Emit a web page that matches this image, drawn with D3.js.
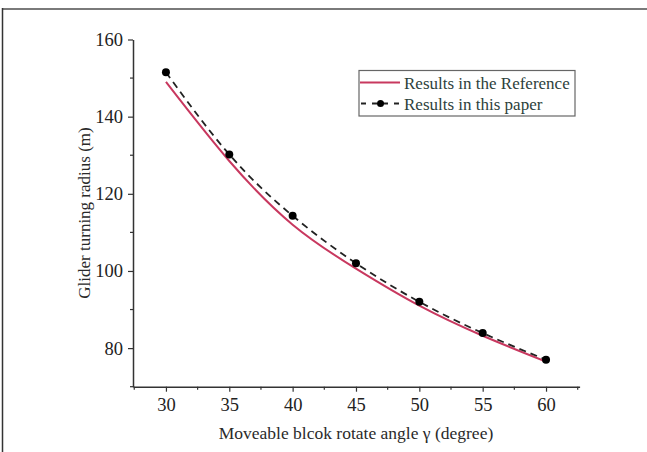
<!DOCTYPE html>
<html><head><meta charset="utf-8">
<script src="https://cdn.jsdelivr.net/npm/d3@7"></script>
<style>
html,body{margin:0;padding:0;background:#fff;}
svg{display:block;}
text{font-family:"Liberation Serif","Times New Roman",serif;}
</style></head>
<body>
<svg id="chart" width="647" height="452"></svg>
<script>
const angles = [30, 35, 40, 45, 50, 55, 60];
const referenceValues = [149.0, 128.5, 112.0, 100.6, 91.0, 83.2, 76.5];
const paperValues = [151.5, 130.2, 114.3, 102.0, 92.0, 83.9, 77.0];
const xTicks = [30, 35, 40, 45, 50, 55, 60];
const yTicks = [80, 100, 120, 140, 160];
const seriesNames = ["Results in the Reference", "Results in this paper"];

const svg = d3.select("#chart");
// outer frame (top and left edges only)
svg.append("line").attr("x1", 2).attr("x2", 647).attr("y1", 9).attr("y2", 9)
  .attr("stroke", "#7a7a7a").attr("stroke-width", 2);
svg.append("line").attr("x1", 2.5).attr("x2", 2.5).attr("y1", 8).attr("y2", 452)
  .attr("stroke", "#333").attr("stroke-width", 1.5);

const x = d3.scaleLinear().domain([27.4, 62.65]).range([133, 579.6]);
const y = d3.scaleLinear().domain([70, 160]).range([386.7, 39.5]);

const axisColor = "#333";
// x axis
const gx = svg.append("g").attr("transform", "translate(0,386.7)");
gx.call(d3.axisBottom(x).tickValues(xTicks).tickSize(5).tickPadding(6).tickSizeOuter(0))
  .call(g => g.select(".domain").attr("stroke", axisColor).attr("stroke-width", 1.5))
  .call(g => g.selectAll(".tick line").attr("stroke", axisColor).attr("stroke-width", 1.2))
  .call(g => g.selectAll(".tick text").attr("font-size", 18.5).attr("fill", "#222")
     .attr("font-family", "Liberation Serif, serif"));
gx.selectAll(".minor").data(d3.range(27.5, 62.6, 2.5).filter(v => !xTicks.includes(v)))
  .enter().append("line").attr("class", "minor")
  .attr("x1", d => x(d)).attr("x2", d => x(d)).attr("y1", 0).attr("y2", 3)
  .attr("stroke", axisColor).attr("stroke-width", 1.2);

// y axis
const gy = svg.append("g").attr("transform", "translate(133,0)");
gy.call(d3.axisLeft(y).tickValues(yTicks).tickSize(5).tickPadding(5).tickSizeOuter(0))
  .call(g => g.select(".domain").attr("stroke", axisColor).attr("stroke-width", 1.5))
  .call(g => g.selectAll(".tick line").attr("stroke", axisColor).attr("stroke-width", 1.2))
  .call(g => g.selectAll(".tick text").attr("font-size", 18.5).attr("fill", "#222")
     .attr("font-family", "Liberation Serif, serif"));
gy.selectAll(".minor").data([70, 90, 110, 130, 150])
  .enter().append("line").attr("class", "minor")
  .attr("x1", 0).attr("x2", -3).attr("y1", d => y(d)).attr("y2", d => y(d))
  .attr("stroke", axisColor).attr("stroke-width", 1.2);

// axis titles
svg.append("text").attr("x", 356).attr("y", 439).attr("text-anchor", "middle")
  .attr("font-size", 17.5).attr("fill", "#2a2a2a")
  .text("Moveable blcok rotate angle γ (degree)");
svg.append("text").attr("transform", "translate(90,213) rotate(-90)")
  .attr("text-anchor", "middle").attr("font-size", 17).attr("fill", "#2a2a2a")
  .text("Glider turning radius (m)");

const red = "#c8385f";
const refData = angles.map((a, i) => [a, referenceValues[i]]);
const papData = angles.map((a, i) => [a, paperValues[i]]);
const line = d3.line().x(d => x(d[0])).y(d => y(d[1])).curve(d3.curveNatural);

svg.append("path").attr("d", line(refData)).attr("fill", "none")
  .attr("stroke", red).attr("stroke-width", 2);
svg.append("path").attr("d", line(papData)).attr("fill", "none")
  .attr("stroke", "#222").attr("stroke-width", 1.8).attr("stroke-dasharray", "7,5");
svg.selectAll(".pt").data(papData).enter().append("circle").attr("class", "pt")
  .attr("cx", d => x(d[0])).attr("cy", d => y(d[1])).attr("r", 4).attr("fill", "#000");

// legend
const lg = svg.append("g");
lg.append("rect").attr("x", 359).attr("y", 70.5).attr("width", 216).attr("height", 45.5)
  .attr("fill", "#fff").attr("stroke", "#666").attr("stroke-width", 1.2);
lg.append("line").attr("x1", 360).attr("x2", 400).attr("y1", 82.5).attr("y2", 82.5)
  .attr("stroke", red).attr("stroke-width", 2);
lg.append("line").attr("x1", 361).attr("x2", 400).attr("y1", 103.5).attr("y2", 103.5)
  .attr("stroke", "#222").attr("stroke-width", 1.8).attr("stroke-dasharray", "5,6");
lg.append("circle").attr("cx", 380.5).attr("cy", 103.5).attr("r", 3.5).attr("fill", "#000");
lg.selectAll(".lt").data(seriesNames).enter().append("text").attr("class", "lt")
  .attr("x", 404).attr("y", (d, i) => 88.5 + i * 21).attr("font-size", 17)
  .attr("fill", "#2d3f3c").text(d => d);
</script>
</body></html>
